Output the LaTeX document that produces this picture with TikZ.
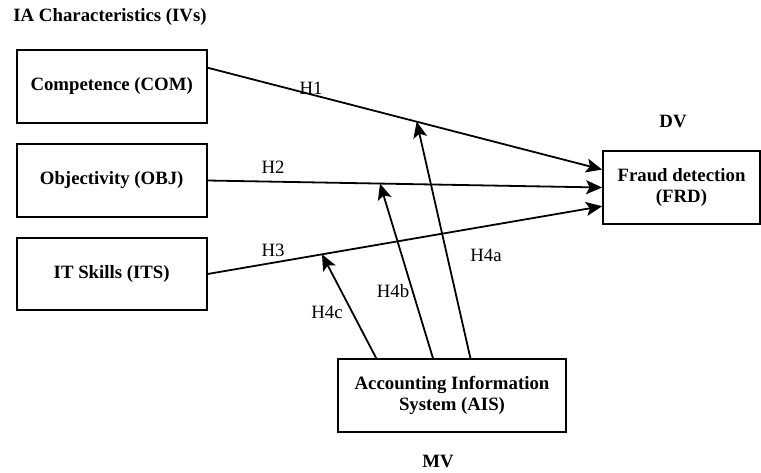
\documentclass[tikz,border=0pt]{standalone}
\usepackage{fontspec}
\setmainfont{Liberation Serif}
\usetikzlibrary{calc, positioning, arrows.meta}
\tikzset{
  mvfig/.style={font=\fontsize{9.4}{10.6}\selectfont},
  varbox/.style={draw, line width=0.9pt, font=\fontsize{9.4}{10.6}\selectfont\bfseries,
    align=center, inner sep=0pt},
  hyp/.style={font=\fontsize{9.4}{10.6}\selectfont},
  ttl/.style={font=\fontsize{9.4}{10.6}\selectfont\bfseries},
  arr/.style={-{Stealth[length=8pt, width=7pt, inset=1.8pt]}, line width=0.9pt},
}
\def\IVW{95pt}
\def\IVH{36.3pt}

\begin{document}
\begin{tikzpicture}[mvfig, x=0.5pt, y=-0.5pt]
  \useasboundingbox (0,0) rectangle (761,472);

  % ----- group labels -----
  \node[ttl] (ivs) at (110,17) {IA Characteristics (IVs)};
  \node[ttl] (dv) at (673,121) {DV};
  \node[ttl] (mv) at (438,461) {MV};

  % ----- variable boxes -----
  \node[varbox, minimum width=\IVW, minimum height=\IVH] (COM) at (111.7,86.3) {Competence (COM)};
  \node[varbox, minimum width=\IVW, minimum height=\IVH] (OBJ) at (111.7,180.5) {Objectivity (OBJ)};
  \node[varbox, minimum width=\IVW, minimum height=\IVH] (ITS) at (111.7,274) {IT Skills (ITS)};
  \node[varbox, minimum width=78.5pt, minimum height=36.5pt] (FRD) at (681.5,187.5)
    {Fraud detection\\(FRD)};
  \node[varbox, minimum width=114pt, minimum height=36.5pt] (AIS) at (452,395.5)
    {Accounting Information\\System (AIS)};

  % ----- direct paths H1--H3 -----
  \draw[arr] ($(COM.north east)!0.25!(COM.south east)$)
    -- coordinate[pos=0.53] (h4a) ($(FRD.north west)!0.26!(FRD.south west)$);
  \draw[arr] (OBJ.east) -- coordinate[pos=0.437] (h4b) (FRD.west);
  \draw[arr] (ITS.east)
    -- coordinate[pos=0.29] (h4c) ($(FRD.north west)!0.75!(FRD.south west)$);

  \node[hyp] (h1) at (311,88) {H1};
  \node[hyp] (h2) at (273,167) {H2};
  \node[hyp] (h3) at (273,250) {H3};

  % ----- moderating paths from AIS -----
  \draw[arr] ($(AIS.north west)!0.58!(AIS.north east)$) -- (h4a);
  \draw[arr] ($(AIS.north west)!0.417!(AIS.north east)$) -- (h4b);
  \draw[arr] ($(AIS.north west)!0.17!(AIS.north east)$) -- (h4c);

  \node[hyp] (h4al) at (486,255) {H4a};
  \node[hyp] (h4bl) at (393,291) {H4b};
  \node[hyp] (h4cl) at (327,312) {H4c};
\end{tikzpicture}
\end{document}
